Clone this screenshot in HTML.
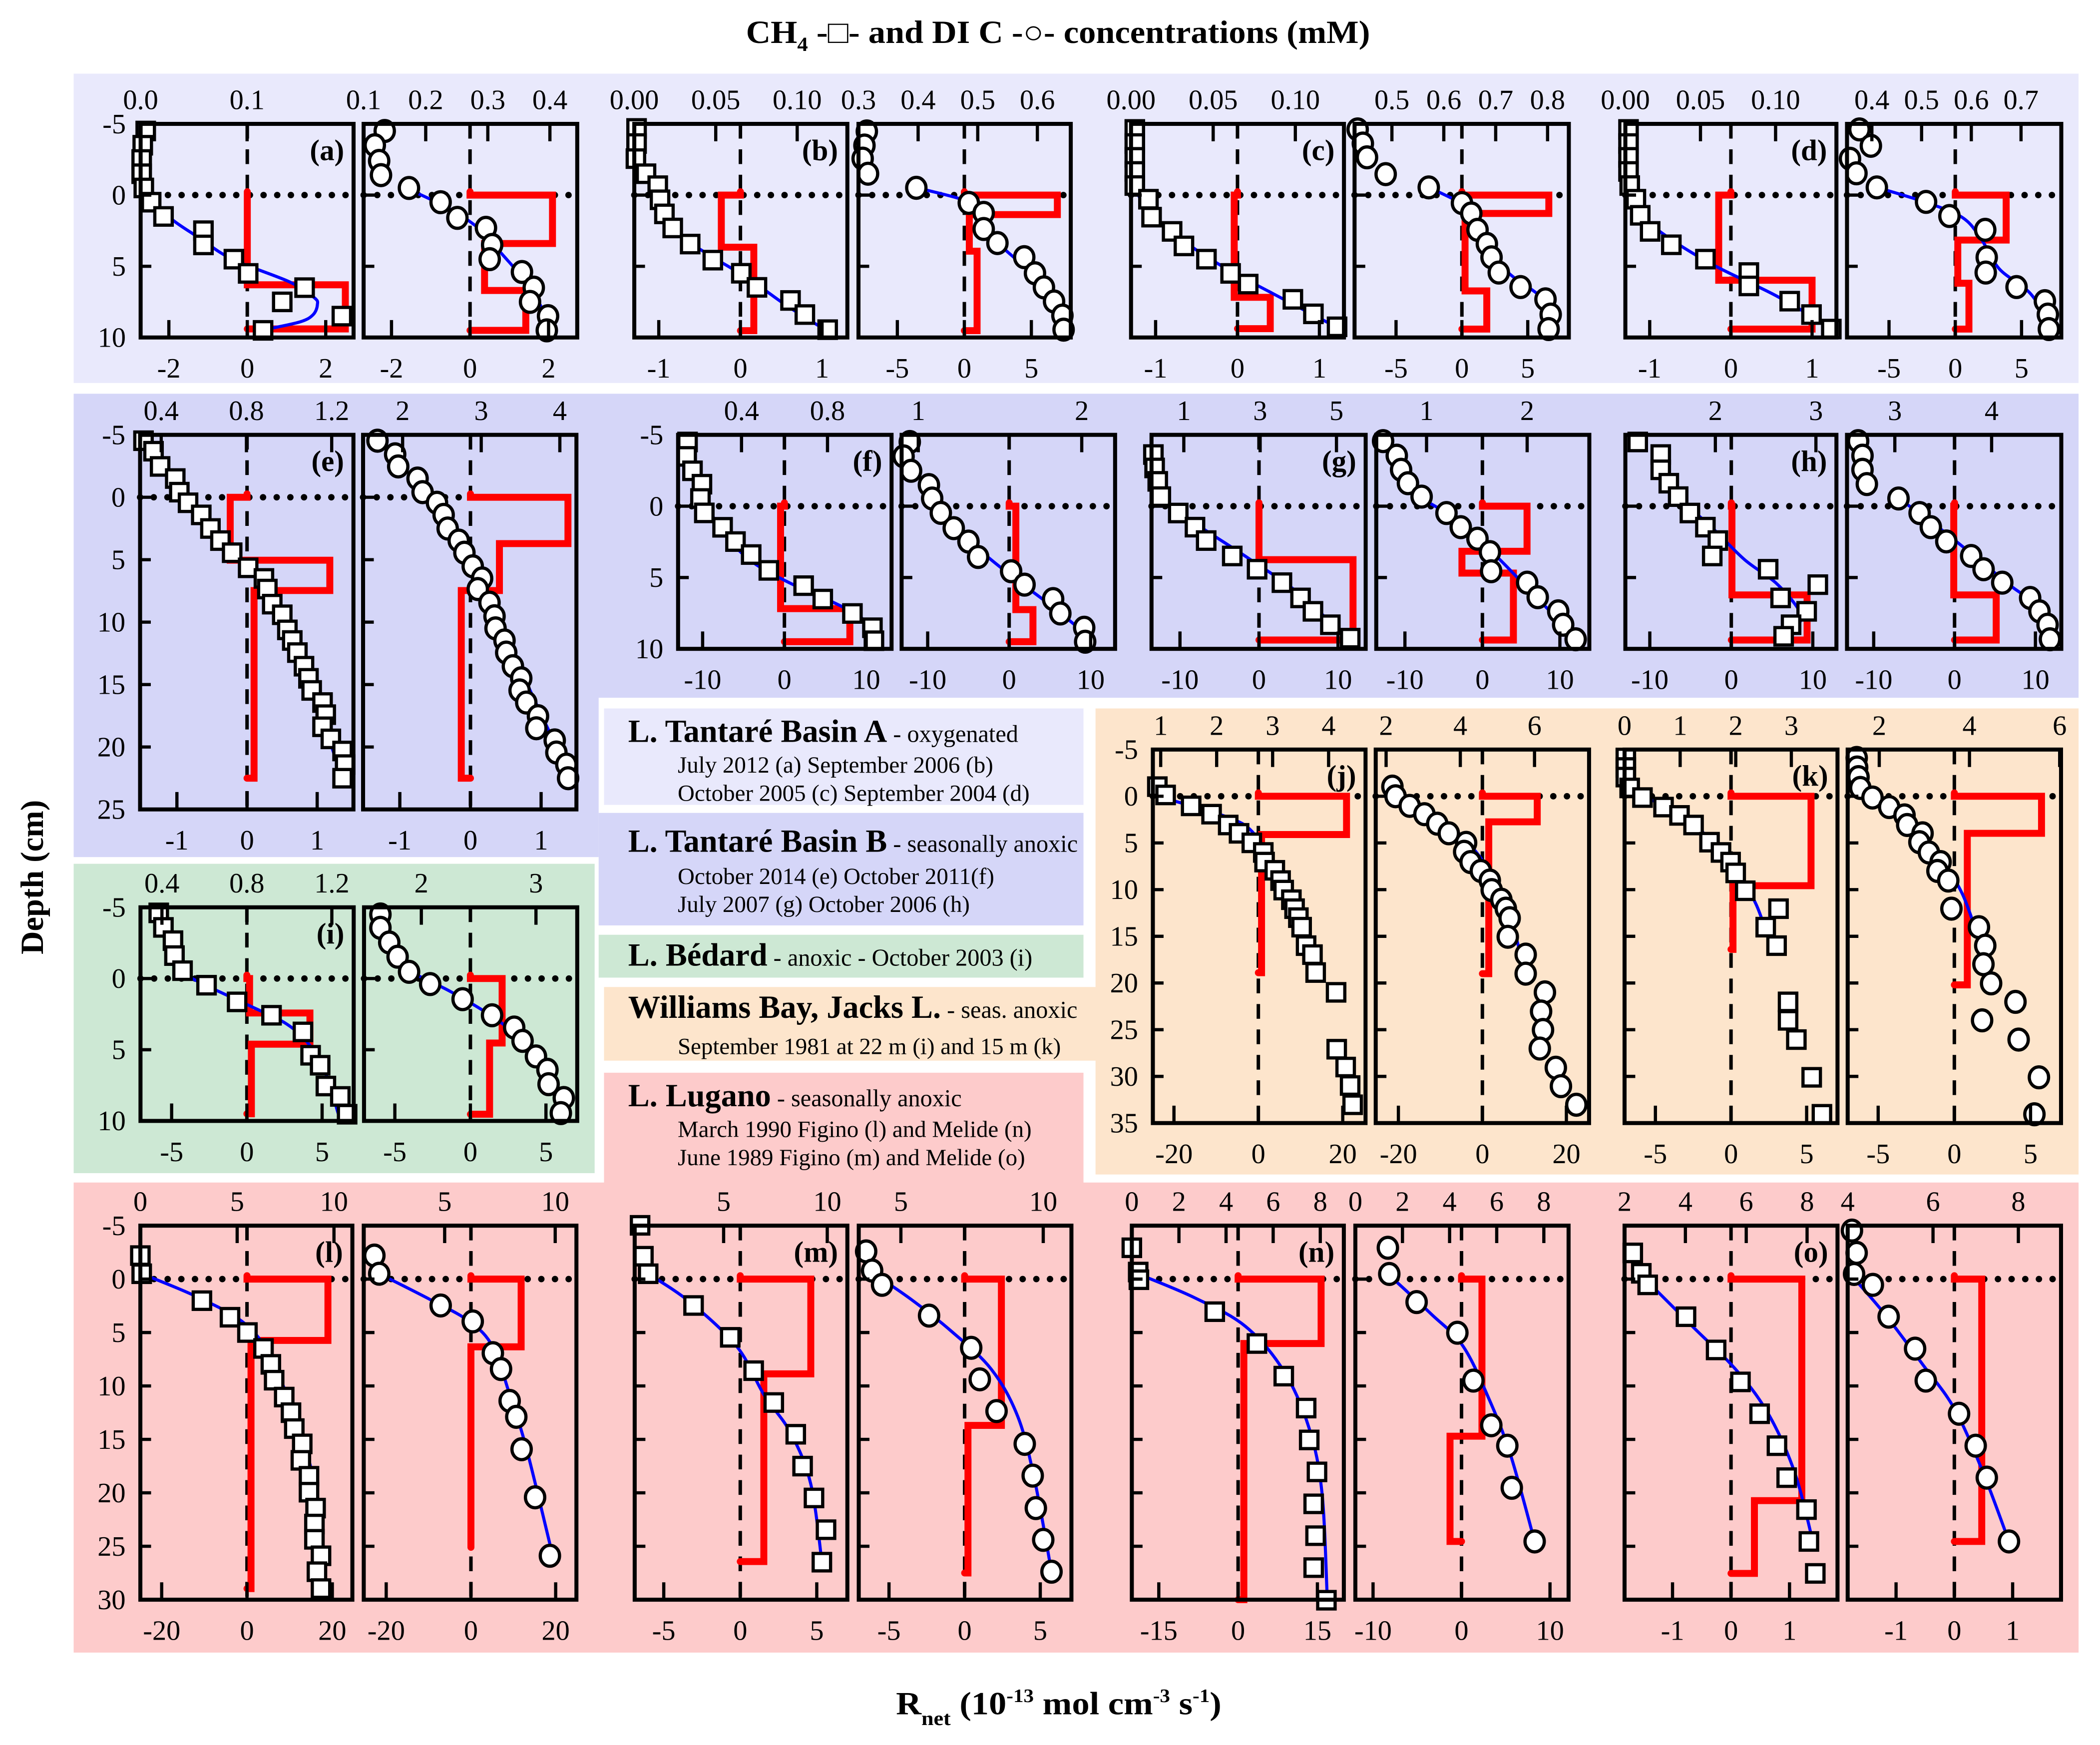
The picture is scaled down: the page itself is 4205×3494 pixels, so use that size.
<!DOCTYPE html>
<html><head><meta charset="utf-8"><title>CH4 and DIC profiles</title>
<style>
html,body{margin:0;padding:0;background:#fff;}
svg{display:block;}
text{font-family:"Liberation Serif","DejaVu Serif",serif;fill:#000;}
</style></head>
<body>
<svg id="fig" xmlns="http://www.w3.org/2000/svg" width="4205" height="3494" viewBox="0 0 1568 1303" preserveAspectRatio="none">
<g>
<rect x="55" y="55" width="1497" height="231" fill="#e9e9fc"/>
<rect x="55" y="294" width="1497" height="227" fill="#d5d6f8"/>
<rect x="55" y="515" width="392" height="125" fill="#d5d6f8"/>
<rect x="55" y="645" width="389" height="231" fill="#cde8d4"/>
<rect x="818" y="529" width="734" height="348" fill="#fde5cc"/>
<rect x="55" y="883" width="1497" height="351" fill="#fdcbcb"/>
<rect x="451" y="529" width="358" height="72" fill="#e9e9fc"/>
<rect x="447" y="607" width="362" height="84" fill="#d5d6f8"/>
<rect x="447" y="698" width="362" height="32" fill="#cde8d4"/>
<rect x="451" y="737" width="368" height="55" fill="#fde5cc"/>
<rect x="451" y="801" width="358" height="84" fill="#fdcbcb"/>
</g>
<g>
<text x="469" y="554" font-size="24" font-weight="bold">L. Tantaré Basin A<tspan font-weight="normal" font-size="18"> - oxygenated</tspan></text>
<text x="506" y="577" font-size="17.5">July 2012 (a) September 2006 (b)</text>
<text x="506" y="598" font-size="17.5">October 2005 (c) September 2004 (d)</text>
<text x="469" y="636" font-size="24" font-weight="bold">L. Tantaré Basin B<tspan font-weight="normal" font-size="18"> - seasonally anoxic</tspan></text>
<text x="506" y="660" font-size="17.5">October 2014 (e) October 2011(f)</text>
<text x="506" y="681" font-size="17.5">July 2007 (g) October 2006 (h)</text>
<text x="469" y="721" font-size="24" font-weight="bold">L. Bédard<tspan font-weight="normal" font-size="18"> - anoxic - October 2003 (i)</tspan></text>
<text x="469" y="760" font-size="24" font-weight="bold">Williams Bay, Jacks L.<tspan font-weight="normal" font-size="18"> - seas. anoxic</tspan></text>
<text x="506" y="787" font-size="17.5">September 1981 at 22 m (i) and 15 m (k)</text>
<text x="469" y="826" font-size="24" font-weight="bold">L. Lugano<tspan font-weight="normal" font-size="18"> - seasonally anoxic</tspan></text>
<text x="506" y="849" font-size="17.5">March 1990 Figino (l) and Melide (n)</text>
<text x="506" y="870" font-size="17.5">June 1989 Figino (m) and Melide (o)</text>
</g>
<text x="557" y="32" font-size="24" font-weight="bold" textLength="466" lengthAdjust="spacingAndGlyphs">CH<tspan font-size="15" dy="6">4</tspan><tspan dy="-6"> -□- and DI C -○- concentrations (mM)</tspan></text>
<text transform="translate(32,655) rotate(-90)" text-anchor="middle" font-size="24" font-weight="bold">Depth (cm)</text>
<text x="669" y="1280" font-size="24" font-weight="bold" textLength="243" lengthAdjust="spacingAndGlyphs">R<tspan font-size="15" dy="8">net</tspan><tspan dy="-8"> (10</tspan><tspan font-size="14" dy="-9">-13</tspan><tspan dy="9"> mol cm</tspan><tspan font-size="14" dy="-9">-3</tspan><tspan dy="9"> s</tspan><tspan font-size="14" dy="-9">-1</tspan><tspan dy="9">)</tspan></text>
<g id="panels"></g>
</svg>
<script>
// ---------- data: [depth cm, concentration mM] ----------
const a1Pts=[[-4.5,0.0048],[-3.5,0.002],[-2.5,0.001],[-1.5,0.001],[-0.5,0.003],[0.5,0.0099],[1.5,0.0215],[2.5,0.059],[3.5,0.059],[4.5,0.0876],[5.5,0.101],[6.5,0.154],[7.5,0.133],[8.5,0.189],[9.5,0.115]];
const a1Fit=[[-0.5,0.003],[0.5,0.012],[1.8,0.031],[3,0.055],[4.5,0.086],[6.1,0.14],[7.2,0.163],[7.7,0.166],[8.4,0.162],[8.9,0.15],[9.4,0.12]];
const a1Bnd=[0,6.3,9.4]; const a1Rate=[0,2.5];
const a2Pts=[[-4.5,0.134],[-3.5,0.118],[-2.4,0.125],[-1.4,0.128],[-0.5,0.173],[0.5,0.224],[1.6,0.251],[2.3,0.297],[3.5,0.307],[4.5,0.303],[5.4,0.355],[6.5,0.374],[7.5,0.368],[8.5,0.397],[9.5,0.395]];
const a2Fit=[[-0.4,0.173],[1,0.24],[2.5,0.29],[4,0.32],[5.5,0.35],[7,0.375],[8.5,0.393],[9.5,0.4]];
const a2Bnd=[0,3.4,6.7,9.5]; const a2Rate=[2.1,0.37,1.42];
const b1Pts=[[-4.68,0.0014],[-3.62,0.0014],[-2.56,0.001],[-1.5,0.0072],[-0.66,0.0144],[0.33,0.0158],[1.32,0.0185],[2.31,0.0236],[3.44,0.0343],[4.57,0.0482],[5.49,0.0657],[6.48,0.0753],[7.4,0.0959],[8.39,0.1047],[9.45,0.1187]];
const b1Fit=[[-0.51,0.0144],[1.25,0.0164],[2.81,0.0277],[4.22,0.0462],[5.92,0.0708],[7.75,0.0934],[9.52,0.118]];
const b1Bnd=[0,3.66,9.52]; const b1Rate=[-0.234,0.164];
const b2Pts=[[-4.47,0.314],[-3.48,0.31],[-2.56,0.307],[-1.5,0.316],[-0.51,0.397],[0.55,0.485],[1.25,0.51],[2.38,0.51],[3.37,0.533],[4.36,0.578],[5.49,0.596],[6.48,0.611],[7.47,0.628],[8.46,0.642],[9.45,0.644]];
const b2Fit=[[-0.51,0.398],[0.27,0.471],[0.97,0.505],[2.1,0.516],[3.51,0.538],[5.2,0.583],[7.04,0.623],[9.52,0.651]];
const b2Bnd=[0,1.37,3.94,9.52]; const b2Rate=[6.94,0.37,0.95];
const c1Pts=[[-4.61,0.0023],[-3.62,0.0023],[-2.65,0.0023],[-1.66,0.0023],[-0.67,0.0023],[0.29,0.0106],[1.55,0.0125],[2.55,0.025],[3.57,0.0322],[4.5,0.0459],[5.5,0.0606],[6.25,0.0713],[7.32,0.0985],[8.34,0.111],[9.25,0.1254]];
const c1Fit=[[-0.54,0.0023],[1.15,0.0106],[3.03,0.0296],[5.04,0.0561],[6.92,0.0864],[9.33,0.126]];
const c1Bnd=[0,7.18,9.38]; const c1Rate=[-0.04,0.4];
const c2Pts=[[-4.61,0.434],[-3.62,0.444],[-2.65,0.452],[-1.47,0.488],[-0.54,0.571],[0.56,0.635],[1.29,0.653],[2.44,0.665],[3.43,0.683],[4.37,0.692],[5.44,0.706],[6.46,0.748],[7.32,0.796],[8.39,0.806],[9.41,0.802]];
const c2Fit=[[-0.54,0.571],[0.62,0.635],[1.69,0.662],[3.3,0.677],[5.44,0.724],[7.05,0.784],[8.39,0.808],[9.41,0.802]];
const c2Bnd=[0,1.29,6.73,9.41]; const c2Rate=[6.6,0.24,1.89];
const d1Pts=[[-4.61,0.0021],[-3.62,0.0021],[-2.65,0.0021],[-1.66,0.0021],[-0.67,0.0029],[0.29,0.007],[1.42,0.0099],[2.55,0.0165],[3.49,0.0306],[4.5,0.0533],[5.44,0.0822],[6.38,0.0822],[7.45,0.1094],[8.39,0.1239],[9.41,0.1371]];
const d1Fit=[[-0.59,0.0021],[1.15,0.0091],[2.76,0.0256],[4.91,0.0586],[7.05,0.1],[9.33,0.1371]];
const d1Bnd=[0,5.98,9.41]; const d1Rate=[-0.15,1.0];
const d2Pts=[[-4.61,0.375],[-3.46,0.398],[-2.55,0.356],[-1.53,0.369],[-0.54,0.41],[0.48,0.509],[1.47,0.556],[2.44,0.628],[4.37,0.631],[5.44,0.629],[6.46,0.691],[7.45,0.748],[8.39,0.754],[9.41,0.756]];
const d2Fit=[[-0.54,0.41],[0.48,0.506],[1.55,0.581],[3.03,0.619],[5.17,0.656],[6.92,0.719],[9.33,0.763]];
const d2Bnd=[0,3.16,6.19,9.41]; const d2Rate=[3.84,0.19,1.03];
const e1Pts=[[-4.53,0.317],[-3.69,0.364],[-2.47,0.395],[-1.5,0.466],[-0.41,0.485],[0.44,0.526],[1.41,0.588],[2.5,0.631],[3.47,0.678],[4.44,0.733],[5.65,0.808],[6.5,0.882],[7.35,0.898],[8.56,0.921],[9.41,0.968],[10.62,0.992],[11.47,1.015],[12.44,1.039],[13.53,1.07],[14.5,1.091],[15.47,1.106],[16.44,1.157],[17.41,1.172],[18.38,1.157],[19.35,1.196],[20.32,1.251],[21.41,1.263],[22.5,1.251]];
const e1Fit=[[-0.53,0.485],[2.01,0.623],[4.68,0.764],[7.83,0.905],[12.2,1.031],[17.05,1.141],[22.62,1.251]];
const e1Bnd=[0,5.04,7.47,22.5]; const e1Rate=[-0.24,1.18,0.1];
const e2Pts=[[-4.53,1.68],[-3.44,1.905],[-2.47,1.944],[-1.5,2.19],[-0.41,2.254],[0.44,2.437],[1.41,2.522],[2.5,2.573],[3.47,2.714],[4.44,2.786],[5.53,2.892],[6.5,3.011],[7.35,2.956],[8.44,3.105],[9.53,3.169],[10.5,3.182],[11.47,3.296],[12.44,3.318],[13.53,3.403],[14.5,3.509],[15.47,3.488],[16.44,3.573],[17.53,3.722],[18.5,3.701],[19.47,3.935],[20.44,3.956],[21.41,4.083],[22.5,4.105]];
const e2Fit=[[-0.53,2.254],[2.26,2.552],[6.13,2.935],[11.23,3.318],[16.56,3.701],[22.5,4.147]];
const e2Bnd=[0,3.71,7.47,22.5]; const e2Rate=[1.38,0.41,-0.13];
const f1Pts=[[-4.5,0.149],[-3.49,0.145],[-2.48,0.172],[-1.54,0.216],[-0.54,0.209],[0.47,0.227],[1.48,0.312],[2.48,0.372],[3.39,0.445],[4.5,0.527],[5.57,0.689],[6.51,0.778],[7.52,0.916],[8.52,1.009],[9.43,1.016]];
const f1Fit=[[-0.4,0.227],[1.88,0.316],[3.89,0.449],[5.4,0.627],[6.58,0.805],[7.85,0.96],[9.26,1.027]];
const f1Bnd=[0,7.18,9.5]; const f1Rate=[-0.47,8.0];
const f2Pts=[[-4.5,0.948],[-3.49,0.91],[-2.48,0.956],[-1.48,1.065],[-0.54,1.085],[0.47,1.138],[1.54,1.217],[2.48,1.307],[3.56,1.366],[4.56,1.568],[5.5,1.65],[6.51,1.825],[7.52,1.869],[8.52,2.015],[9.5,2.021]];
const f2Fit=[[-0.4,1.085],[2.55,1.328],[4.56,1.533],[7.08,1.825],[9.43,2.073]];
const f2Bnd=[0,7.25,9.5]; const f2Rate=[0.82,2.92];
const g1Pts=[[-3.62,0.203],[-2.68,0.235],[-1.74,0.317],[-0.67,0.398],[0.48,0.854],[1.47,1.293],[2.41,1.586],[3.49,2.269],[4.42,2.92],[5.36,3.571],[6.43,4.059],[7.37,4.384],[8.31,4.84],[9.25,5.36]];
const g1Fit=[[-0.54,0.398],[1.34,1.374],[3.62,2.676],[6.03,3.977],[8.85,5.116]];
const g1Bnd=[0,3.75,9.38]; const g1Rate=[0,11.9];
const g2Pts=[[-4.56,0.568],[-3.54,0.704],[-2.55,0.747],[-1.61,0.815],[-0.67,0.951],[0.48,1.198],[1.47,1.34],[2.28,1.506],[3.22,1.63],[4.56,1.642],[5.36,2.0],[6.38,2.105],[7.37,2.309],[8.31,2.358],[9.33,2.482]];
const g2Fit=[[-0.54,0.951],[1.07,1.321],[3.49,1.692],[6.17,2.062],[8.85,2.432]];
const g2Bnd=[0,3.16,4.69,9.38]; const g2Rate=[5.76,-2.64,4.0];
const h1Pts=[[-4.5,1.228],[-3.62,1.457],[-2.55,1.457],[-1.61,1.537],[-0.67,1.63],[0.48,1.747],[1.47,1.901],[2.41,2.025],[3.49,1.969],[4.42,2.525],[5.5,3.019],[6.43,2.649],[7.37,2.908],[8.31,2.753],[9.12,2.679]];
const h1Fit=[[-0.54,1.642],[1.61,1.982],[3.75,2.291],[5.36,2.599],[7.1,2.815],[8.04,2.846],[8.85,2.753]];
const h1Bnd=[0,6.22,9.38]; const h1Rate=[0.08,9.3];
const h2Pts=[[-4.56,2.621],[-3.54,2.666],[-2.55,2.666],[-1.55,2.711],[-0.54,3.038],[0.48,3.256],[1.47,3.372],[2.47,3.532],[3.49,3.789],[4.42,3.917],[5.36,4.11],[6.43,4.398],[7.37,4.494],[8.31,4.578],[9.33,4.603]];
const h2Fit=[[-0.54,3.038],[1.07,3.372],[3.49,3.821],[5.63,4.206],[7.24,4.527],[9.12,4.623]];
const h2Bnd=[0,6.22,9.38]; const h2Rate=[-0.1,5.15];
const i1Pts=[[-4.61,0.385],[-3.59,0.407],[-2.66,0.452],[-1.61,0.459],[-0.55,0.497],[0.47,0.61],[1.64,0.754],[2.58,0.916],[3.75,1.064],[5.39,1.1],[6.09,1.145],[7.55,1.172],[8.28,1.24],[9.53,1.272]];
const i1Fit=[[-0.5,0.475],[0.63,0.628],[1.88,0.808],[3.2,0.988],[4.69,1.096],[6.56,1.168],[9.53,1.231]];
const i1Bnd=[0,2.42,4.61,9.5]; const i1Rate=[0.18,4.19,0.3];
const i2Pts=[[-4.5,1.643],[-3.56,1.643],[-2.53,1.72],[-1.53,1.793],[-0.47,1.893],[0.39,2.077],[1.45,2.36],[2.58,2.617],[3.44,2.81],[4.38,2.883],[5.47,3.0],[6.41,3.1],[7.42,3.11],[8.39,3.243],[9.45,3.217]];
const i2Fit=[[-0.5,1.893],[0.94,2.26],[2.89,2.66],[4.69,2.927],[6.56,3.127],[9.53,3.21]];
const i2Bnd=[0,4.53,9.53]; const i2Rate=[2.1,1.27];
const j1Pts=[[-1.03,0.94],[-0.14,1.088],[1.03,1.544],[1.92,1.909],[3.08,2.206],[3.97,2.4],[4.99,2.628],[6.02,2.833],[7.05,2.856],[7.93,3.039],[9.03,3.142],[10.05,3.198],[11.08,3.335],[12.04,3.392],[13.0,3.46],[14.02,3.518],[16.0,3.598],[16.96,3.712],[18.88,3.769],[21.0,4.134],[27.09,4.145],[29.0,4.305],[30.98,4.385],[33.04,4.43]];
const j1Fit=[[0.14,1.03],[2.19,2.17],[3.76,2.63],[6.84,2.91],[11.63,3.31],[15.73,3.65],[19.15,3.88]];
const j1Bnd=[0,4.1,18.9]; const j1Rate=[20.9,0.76];
const j2Pts=[[-1.03,2.17],[0,2.255],[1.03,2.636],[1.92,3.033],[2.94,3.378],[3.97,3.689],[4.99,4.156],[5.95,4.104],[7.05,4.277],[8.0,4.553],[9.03,4.795],[10.05,4.847],[11.08,5.106],[12.04,5.227],[13.06,5.33],[15.05,5.279],[16.96,5.762],[19.0,5.762],[21.0,6.28],[23.05,6.177],[25.03,6.229],[27.02,6.142],[29.07,6.574],[31.05,6.712],[33.04,7.127]];
const j2Fit=[[0,2.255],[1.71,3.03],[3.76,3.9],[6.84,4.59],[10.94,5.19],[19.0,5.76]];
const j2Bnd=[0,2.74,19.0]; const j2Rate=[13.06,1.52];
const k1Pts=[[-4.1,0.023],[-3.08,0.023],[-2.05,0.023],[-0.89,0.092],[0.14,0.322],[1.16,0.701],[2.05,0.988],[3.08,1.241],[4.92,1.528],[6.02,1.735],[7.05,1.907],[8.21,1.999],[10.12,2.171],[12.04,2.769],[14.02,2.539],[16.0,2.734],[22.02,2.941],[24.0,2.941],[26.06,3.09],[30.1,3.366],[34.06,3.55]];
const k1Fit=[[0,0.32],[1.5,0.87],[4.1,1.45],[8.21,2.02],[11.63,2.37],[16.4,2.65]];
const k1Bnd=[0,9.58,16.4]; const k1Rate=[5.29,0.13];
const k2Pts=[[-4.1,1.5],[-3.08,1.51],[-2.05,1.54],[-0.89,1.58],[0.14,1.85],[1.16,2.22],[2.05,2.56],[3.08,2.62],[3.97,2.96],[4.92,2.89],[6.02,3.1],[7.05,3.36],[8.0,3.29],[9.03,3.53],[12.04,3.6],[14.02,4.21],[16.0,4.35],[17.99,4.31],[20.04,4.48],[22.02,5.02],[24.0,4.28],[26.06,5.09],[30.1,5.54],[34.06,5.44]];
const k2Fit=[[0,1.85],[1.71,2.53],[4.79,3.1],[8.89,3.67],[12.65,4.02],[20.2,4.49]];
const k2Bnd=[0,3.97,20.2]; const k2Rate=[5.72,0.85];
const l1Pts=[[-2.2,0],[-0.5,0.07],[2.02,3.18],[3.57,4.63],[5.0,5.53],[6.49,6.36],[7.98,6.74],[9.46,6.91],[11.04,7.43],[12.5,7.78],[13.99,7.95],[15.42,8.36],[16.96,8.29],[18.45,8.71],[19.94,8.71],[21.43,9.05],[22.92,8.99],[24.35,8.99],[25.89,9.33],[27.38,9.12],[28.96,9.33]];
const l1Fit=[[-0.5,0.07],[1.58,2.83],[3.96,5.25],[6.93,6.64],[11.4,7.67],[15.86,8.54],[20.33,9.05],[28.96,9.4]];
const l1Bnd=[0,5.74,28.96]; const l1Rate=[18.97,0.94];
const l2Pts=[[-2.2,1.82],[-0.5,2.04],[2.47,4.82],[3.96,6.27],[6.93,7.18],[8.42,7.55],[11.4,7.94],[12.89,8.24],[15.92,8.48],[20.42,9.09],[25.89,9.76]];
const l2Fit=[[-0.5,2.04],[1.88,4.31],[3.96,6.12],[6.34,7.18],[10.8,7.94],[15.86,8.7],[24.79,9.76]];
const l2Bnd=[0,6.34,25.1]; const l2Rate=[11.85,0];
const m1Pts=[[-5.03,0.97],[-2.14,1.13],[-0.5,1.36],[2.47,3.55],[5.45,5.32],[8.57,6.45],[11.55,7.42],[14.52,8.48],[17.5,8.81],[20.48,9.36],[23.45,9.94],[26.49,9.74]];
const m1Fit=[[-0.5,1.36],[2.17,3.39],[6.34,5.65],[10.8,6.94],[14.38,8.23],[19.14,9.2],[26.43,9.74]];
const m1Bnd=[0,8.87,26.43]; const m1Rate=[4.61,1.54];
const m2Pts=[[-2.59,3.78],[-0.8,3.99],[0.54,4.34],[3.42,5.99],[6.43,7.47],[9.38,7.77],[12.35,8.36],[15.42,9.35],[18.39,9.63],[21.43,9.74],[24.4,10.0],[27.38,10.29]];
const m2Fit=[[-0.6,3.99],[1.88,5.35],[4.85,6.76],[8.42,8.17],[12.89,9.11],[18.84,9.7],[27.38,10.29]];
const m2Bnd=[0,13.69,27.5]; const m2Rate=[2.43,0.22];
const n1Pts=[[-2.93,0],[-0.66,0.27],[0.06,0.3],[3.05,3.52],[6.03,5.31],[9.08,6.45],[12.07,7.4],[15.05,7.53],[18.04,7.86],[21.03,7.72],[24.01,7.8],[27.0,7.72],[30.05,8.26]];
const n1Fit=[[-0.48,0.27],[1.73,2.65],[4.42,4.82],[8.6,6.45],[13.98,7.53],[19.95,8.07],[29.5,8.29]];
const n1Bnd=[0,6.03,30]; const n1Rate=[15.7,1.09];
const n2Pts=[[-2.93,1.38],[-0.48,1.44],[2.15,2.6],[5.02,4.33],[9.5,5.01],[13.68,5.77],[15.59,6.45],[19.53,6.64],[24.55,7.61]];
const n2Fit=[[-0.36,1.44],[3.23,3.2],[6.21,4.55],[11.0,5.63],[16.4,6.58],[24.55,7.61]];
const n2Bnd=[0,14.7,24.55]; const n2Rate=[2.31,-1.3];
const o1Pts=[[-2.45,2.27],[-0.54,2.55],[0.54,2.76],[3.52,4.02],[6.63,5.01],[9.62,5.81],[12.6,6.44],[15.59,7.01],[18.58,7.33],[21.57,7.98],[24.55,8.06],[27.54,8.27]];
const o1Fit=[[-0.36,2.55],[4.42,4.23],[8.6,5.7],[12.78,6.76],[18.16,7.6],[24.55,8.19]];
const o1Bnd=[0,20.73,27.54]; const o1Rate=[1.21,0.4];
const o2Pts=[[-4.54,4.1],[-2.45,4.21],[-0.48,4.15],[0.54,4.59],[3.52,4.96],[6.51,5.58],[9.5,5.83],[12.6,6.61],[15.59,7.0],[18.58,7.26],[24.55,7.78]];
const o2Fit=[[-0.06,4.15],[3.23,4.86],[8.0,5.76],[12.19,6.51],[18.16,7.18],[24.55,7.78]];
const o2Bnd=[0,24.55]; const o2Rate=[0.47];

// ---------- tick label arrays ----------
const depthTicksShort=[-5,0,5,10];
const depthTicksE=[-5,0,5,10,15,20,25];
const depthTicksJK=[-5,0,5,10,15,20,25,30,35];
const depthTicksPink=[-5,0,5,10,15,20,25,30];

// ---------- layout (pixel frames + axis ranges) ----------
const R1={y0:92.5,y1:252,d:[-5,10],dt:depthTicksShort};
const RE={y0:324.7,y1:604.4,d:[-5,25],dt:depthTicksE};
const RF={y0:324.7,y1:484.5,d:[-5,10],dt:depthTicksShort};
const RI={y0:677.5,y1:837,d:[-5,10],dt:depthTicksShort};
const RJ={y0:559.7,y1:838.6,d:[-5,35],dt:depthTicksJK};
const RP={y0:915.2,y1:1194.5,d:[-5,30],dt:depthTicksPink};
const panels=[
 {id:'a1',row:R1,x0:105,x1:264,c:[0,0.2],r:[-2.72,2.71],ct:[0,0.1],cl:['0.0','0.1'],rt:[-2,0,2],mk:'sq',tag:'(a)',dl:true,pts:a1Pts,fit:a1Fit,b:a1Bnd,v:a1Rate},
 {id:'a2',row:R1,x0:271.5,x1:431,c:[0.1,0.444],r:[-2.71,2.73],ct:[0.1,0.2,0.3,0.4],cl:['0.1','0.2','0.3','0.4'],rt:[-2,0,2],mk:'ci',pts:a2Pts,fit:a2Fit,b:a2Bnd,v:a2Rate},
 {id:'b1',row:R1,x0:473.6,x1:632.7,c:[0,0.1308],r:[-1.3,1.31],ct:[0,0.05,0.1],cl:['0.00','0.05','0.10'],rt:[-1,0,1],mk:'sq',tag:'(b)',pts:b1Pts,fit:b1Fit,b:b1Bnd,v:b1Rate},
 {id:'b2',row:R1,x0:641,x1:799.5,c:[0.3,0.656],r:[-7.9,7.94],ct:[0.3,0.4,0.5,0.6],cl:['0.3','0.4','0.5','0.6'],rt:[-5,0,5],mk:'ci',pts:b2Pts,fit:b2Fit,b:b2Bnd,v:b2Rate},
 {id:'c1',row:R1,x0:844.5,x1:1003.5,c:[0,0.1296],r:[-1.3,1.3],ct:[0,0.05,0.1],cl:['0.00','0.05','0.10'],rt:[-1,0,1],mk:'sq',tag:'(c)',pts:c1Pts,fit:c1Fit,b:c1Bnd,v:c1Rate},
 {id:'c2',row:R1,x0:1011.4,x1:1171.4,c:[0.428,0.841],r:[-8.15,8.12],ct:[0.5,0.6,0.7,0.8],cl:['0.5','0.6','0.7','0.8'],rt:[-5,0,5],mk:'ci',pts:c2Pts,fit:c2Fit,b:c2Bnd,v:c2Rate},
 {id:'d1',row:R1,x0:1213.6,x1:1371.2,c:[0,0.1405],r:[-1.3,1.3],ct:[0,0.05,0.1],cl:['0.00','0.05','0.10'],rt:[-1,0,1],mk:'sq',tag:'(d)',pts:d1Pts,fit:d1Fit,b:d1Bnd,v:d1Rate},
 {id:'d2',row:R1,x0:1379.1,x1:1539.1,c:[0.35,0.781],r:[-8.17,8.0],ct:[0.4,0.5,0.6,0.7],cl:['0.4','0.5','0.6','0.7'],rt:[-5,0,5],mk:'ci',pts:d2Pts,fit:d2Fit,b:d2Bnd,v:d2Rate},
 {id:'e1',row:RE,x0:104.6,x1:263.9,c:[0.301,1.302],r:[-1.525,1.517],ct:[0.4,0.8,1.2],cl:['0.4','0.8','1.2'],rt:[-1,0,1],mk:'sq',tag:'(e)',dl:true,pts:e1Pts,fit:e1Fit,b:e1Bnd,v:e1Rate},
 {id:'e2',row:RE,x0:271.1,x1:430.4,c:[1.497,4.211],r:[-1.52,1.5],ct:[2,3,4],cl:['2','3','4'],rt:[-1,0,1],mk:'ci',pts:e2Pts,fit:e2Fit,b:e2Bnd,v:e2Rate},
 {id:'f1',row:RF,x0:506.3,x1:665.7,c:[0.105,1.098],r:[-13,13.1],ct:[0.4,0.8],cl:['0.4','0.8'],rt:[-10,0,10],mk:'sq',tag:'(f)',dl:true,pts:f1Pts,fit:f1Fit,b:f1Bnd,v:f1Rate},
 {id:'f2',row:RF,x0:673.2,x1:832.6,c:[0.898,2.204],r:[-13.2,13.0],ct:[1,2],cl:['1','2'],rt:[-10,0,10],mk:'ci',pts:f2Pts,fit:f2Fit,b:f2Bnd,v:f2Rate},
 {id:'g1',row:RF,x0:859.8,x1:1019.7,c:[0.154,5.765],r:[-13.6,13.5],ct:[1,3,5],cl:['1','3','5'],rt:[-10,0,10],mk:'sq',tag:'(g)',pts:g1Pts,fit:g1Fit,b:g1Bnd,v:g1Rate},
 {id:'g2',row:RF,x0:1027.6,x1:1186.7,c:[0.5,2.618],r:[-13.7,13.8],ct:[1,2],cl:['1','2'],rt:[-10,0,10],mk:'ci',pts:g2Pts,fit:g2Fit,b:g2Bnd,v:g2Rate},
 {id:'h1',row:RF,x0:1213.6,x1:1371.2,c:[1.105,3.204],r:[-13.0,12.9],ct:[2,3],cl:['2','3'],rt:[-10,0,10],mk:'sq',tag:'(h)',pts:h1Pts,fit:h1Fit,b:h1Bnd,v:h1Rate},
 {id:'h2',row:RF,x0:1379.1,x1:1539.1,c:[2.506,4.72],r:[-13.3,13.2],ct:[3,4],cl:['3','4'],rt:[-10,0,10],mk:'ci',pts:h2Pts,fit:h2Fit,b:h2Bnd,v:h2Rate},
 {id:'i1',row:RI,x0:104.9,x1:264.1,c:[0.299,1.303],r:[-7.07,7.1],ct:[0.4,0.8,1.2],cl:['0.4','0.8','1.2'],rt:[-5,0,5],mk:'sq',tag:'(i)',dl:true,pts:i1Pts,fit:i1Fit,b:i1Bnd,v:i1Rate},
 {id:'i2',row:RI,x0:271.8,x1:431,c:[1.5,3.36],r:[-7.04,7.07],ct:[2,3],cl:['2','3'],rt:[-5,0,5],mk:'ci',pts:i2Pts,fit:i2Fit,b:i2Bnd,v:i2Rate},
 {id:'j1',row:RJ,x0:860.8,x1:1019.6,c:[0.86,4.66],r:[-25,25.4],ct:[1,2,3,4],cl:['1','2','3','4'],rt:[-20,0,20],mk:'sq',tag:'(j)',dl:true,pts:j1Pts,fit:j1Fit,b:j1Bnd,v:j1Rate},
 {id:'j2',row:RJ,x0:1027.2,x1:1186.5,c:[1.72,7.47],r:[-25.4,25.4],ct:[2,4,6],cl:['2','4','6'],rt:[-20,0,20],mk:'ci',pts:j2Pts,fit:j2Fit,b:j2Bnd,v:j2Rate},
 {id:'k1',row:RJ,x0:1213,x1:1372,c:[0,3.83],r:[-7.04,7.04],ct:[0,1,2,3],cl:['0','1','2','3'],rt:[-5,0,5],mk:'sq',tag:'(k)',pts:k1Pts,fit:k1Fit,b:k1Bnd,v:k1Rate},
 {id:'k2',row:RJ,x0:1379.6,x1:1538.9,c:[1.3,6.03],r:[-7,7],ct:[2,4,6],cl:['2','4','6'],rt:[-5,0,5],mk:'ci',pts:k2Pts,fit:k2Fit,b:k2Bnd,v:k2Rate},
 {id:'l1',row:RP,x0:104.8,x1:263.1,c:[0,10.95],r:[-25,24.7],ct:[0,5,10],cl:['0','5','10'],rt:[-20,0,20],mk:'sq',tag:'(l)',dl:true,pts:l1Pts,fit:l1Fit,b:l1Bnd,v:l1Rate},
 {id:'l2',row:RP,x0:271.6,x1:430.4,c:[1.34,10.96],r:[-25.3,24.9],ct:[5,10],cl:['5','10'],rt:[-20,0,20],mk:'ci',pts:l2Pts,fit:l2Fit,b:l2Bnd,v:l2Rate},
 {id:'m1',row:RP,x0:473.9,x1:632.7,c:[0.71,10.97],r:[-6.9,7.0],ct:[5,10],cl:['5','10'],rt:[-5,0,5],mk:'sq',tag:'(m)',pts:m1Pts,fit:m1Fit,b:m1Bnd,v:m1Rate},
 {id:'m2',row:RP,x0:641.2,x1:800,c:[3.52,10.99],r:[-7.0,7.06],ct:[5,10],cl:['5','10'],rt:[-5,0,5],mk:'ci',pts:m2Pts,fit:m2Fit,b:m2Bnd,v:m2Rate},
 {id:'n1',row:RP,x0:845.1,x1:1003.4,c:[0,9.0],r:[-20.1,20],ct:[0,2,4,6,8],cl:['0','2','4','6','8'],rt:[-15,0,15],mk:'sq',tag:'(n)',pts:n1Pts,fit:n1Fit,b:n1Bnd,v:n1Rate},
 {id:'n2',row:RP,x0:1012,x1:1171.2,c:[0,9.05],r:[-12,12.1],ct:[0,2,4,6,8],cl:['0','2','4','6','8'],rt:[-10,0,10],mk:'ci',pts:n2Pts,fit:n2Fit,b:n2Bnd,v:n2Rate},
 {id:'o1',row:RP,x0:1213,x1:1372,c:[2,9.0],r:[-1.82,1.82],ct:[2,4,6,8],cl:['2','4','6','8'],rt:[-1,0,1],mk:'sq',tag:'(o)',pts:o1Pts,fit:o1Fit,b:o1Bnd,v:o1Rate},
 {id:'o2',row:RP,x0:1379.6,x1:1538.9,c:[4,9.0],r:[-1.83,1.83],ct:[4,6,8],cl:['4','6','8'],rt:[-1,0,1],mk:'ci',pts:o2Pts,fit:o2Fit,b:o2Bnd,v:o2Rate}
];

const NS='http://www.w3.org/2000/svg';
function el(tag,attrs,parent){const e=document.createElementNS(NS,tag);for(const k in attrs)e.setAttribute(k,attrs[k]);parent.appendChild(e);return e;}
function smooth(p){
  if(p.length<2)return '';
  let s='M'+p[0][0].toFixed(2)+','+p[0][1].toFixed(2);
  for(let i=0;i<p.length-1;i++){
    const p0=p[i-1]||p[i],p1=p[i],p2=p[i+1],p3=p[i+2]||p2;
    const c1=[p1[0]+(p2[0]-p0[0])/6,p1[1]+(p2[1]-p0[1])/6];
    const c2=[p2[0]-(p3[0]-p1[0])/6,p2[1]-(p3[1]-p1[1])/6];
    s+='C'+c1[0].toFixed(2)+','+c1[1].toFixed(2)+' '+c2[0].toFixed(2)+','+c2[1].toFixed(2)+' '+p2[0].toFixed(2)+','+p2[1].toFixed(2);
  }
  return s;
}
const root=document.getElementById('panels');
panels.forEach(P=>{
  const y0=P.row.y0,y1=P.row.y1,d=P.row.d;
  const cx=c=>P.x0+(c-P.c[0])/(P.c[1]-P.c[0])*(P.x1-P.x0);
  const rx=r=>P.x0+(r-P.r[0])/(P.r[1]-P.r[0])*(P.x1-P.x0);
  const dy=v=>y0+(v-d[0])/(d[1]-d[0])*(y1-y0);
  const g=el('g',{},root);
  
  
  const zl=el('line',{x1:rx(0),x2:rx(0),y1:y0,y2:y1,stroke:'#000','stroke-width':2.6,'stroke-dasharray':'11,8'},g);
  
  
  const sw=el('line',{x1:P.x0,x2:P.x1,y1:dy(0),y2:dy(0),stroke:'#000','stroke-width':4.8,'stroke-linecap':'round','stroke-dasharray':'0,10.2'},g);
  
  
  let s='M'+rx(0)+','+(dy(P.b[0])-2.5);
  s+='L'+rx(0)+','+dy(P.b[0]);
  for(let i=0;i<P.v.length;i++){s+='L'+rx(P.v[i])+','+dy(P.b[i])+'L'+rx(P.v[i])+','+dy(P.b[i+1]);}
  s+='L'+rx(0)+','+dy(P.b[P.b.length-1]);
  const rp=el('path',{d:s,fill:'none',stroke:'#ff0000','stroke-width':5.2,'stroke-linejoin':'miter','stroke-linecap':'round'},g);
  
  
  const fp=el('path',{d:smooth(P.fit.map(q=>[cx(q[1]),dy(q[0])])),fill:'none',stroke:'#0000ff','stroke-width':2.3},g);
  
  
  P.pts.forEach(q=>{
    const x=cx(q[1]),y=dy(q[0]);
    let m;
    if(P.mk==='sq'){m=el('rect',{x:x-6.5,y:y-6.5,width:13,height:13,fill:'#fff',stroke:'#000','stroke-width':2.4},g);
      }
    else{m=el('ellipse',{cx:x,cy:y,rx:7.2,ry:7.8,fill:'#fff',stroke:'#000','stroke-width':2.4},g);
      }
    
  });
  const fr=el('rect',{x:P.x0,y:y0,width:P.x1-P.x0,height:y1-y0,fill:'none',stroke:'#000','stroke-width':3},g);
  
  
  P.ct.forEach((v,i)=>{
    const x=cx(v);
    const t=el('line',{x1:x,x2:x,y1:y0,y2:y0+13,stroke:'#000','stroke-width':2.4},g);
    
    
    const tx=el('text',{x:x,y:y0-11,'text-anchor':'middle','font-size':21},g);
    tx.textContent=P.cl[i];
    
    
  });
  P.rt.forEach(v=>{
    const x=rx(v);
    const t=el('line',{x1:x,x2:x,y1:y1,y2:y1-13,stroke:'#000','stroke-width':2.4},g);
    
    
    const tx=el('text',{x:x,y:y1+30,'text-anchor':'middle','font-size':21},g);
    tx.textContent=String(v);
    
    
  });
  P.row.dt.forEach(v=>{
    const y=dy(v);
    const t=el('line',{x1:P.x0,x2:P.x0+8,y1:y,y2:y,stroke:'#000','stroke-width':2.4},g);
    
    
    if(P.dl){
      const tx=el('text',{x:P.x0-11,y:y+7,'text-anchor':'end','font-size':21},g);
      tx.textContent=String(v);
      
      
    }
  });
  if(P.tag){
    const tg=el('text',{x:P.x1-7,y:y0+27,'text-anchor':'end','font-size':22,'font-weight':'bold'},g);
    tg.textContent=P.tag;
    
    
  }
});
</script>
</body></html>
